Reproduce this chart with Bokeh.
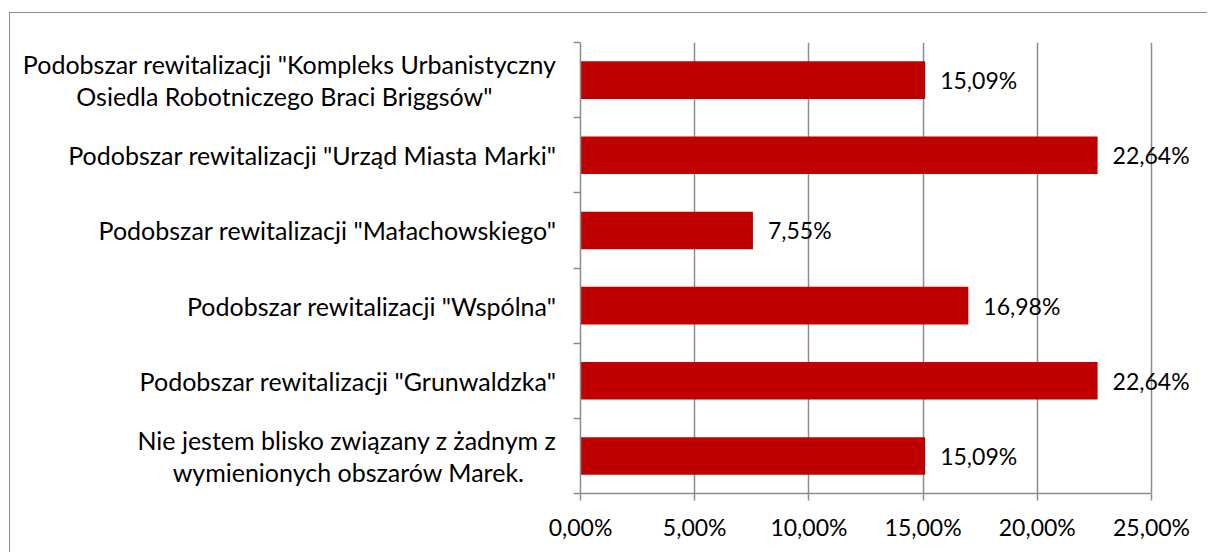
from bokeh.plotting import figure
from bokeh.models import Range1d, FixedTicker, Label
from bokeh.embed import file_html
from bokeh.resources import INLINE

# ---- data (top to bottom as in the chart) ----
categories = [
    'Podobszar rewitalizacji "Kompleks Urbanistyczny\nOsiedla Robotniczego Braci Briggsów"',
    'Podobszar rewitalizacji "Urząd Miasta Marki"',
    'Podobszar rewitalizacji "Małachowskiego"',
    'Podobszar rewitalizacji "Wspólna"',
    'Podobszar rewitalizacji "Grunwaldzka"',
    'Nie jestem blisko związany z żadnym z\nwymienionych obszarów Marek.',
]
values = [15.09, 22.64, 7.55, 16.98, 22.64, 15.09]
value_labels = ["15,09%", "22,64%", "7,55%", "16,98%", "22,64%", "15,09%"]
x_ticks = [0, 5, 10, 15, 20, 25]
x_tick_labels = ["0,00%", "5,00%", "10,00%", "15,00%", "20,00%", "25,00%"]

FONT = "Lato"
FS_CAT = "25px"
FS_NUM = "23px"
GRID = "#8c8c8c"
# non-breaking-space padding so second lines look centred under the first line
LINE_PAD = {0: 10, 5: 5}

# layout (canvas pixels)
W, H = 1198, 540
FRAME_LEFT, FRAME_TOP, FRAME_BOTTOM_BORDER = 570, 29, 60
AXIS_PX = 571          # pixel length of the 0..25 % axis
FRAME_W = W - FRAME_LEFT

n = len(categories)
ypos = [n - i - 0.5 for i in range(n)]
x_max = x_ticks[-1]
x_end = x_max * FRAME_W / AXIS_PX   # frame runs to the canvas edge so value labels are not clipped


def padded(i, text):
    pad = LINE_PAD.get(i, 0)
    if pad and "\n" in text:
        a, b = text.split("\n", 1)
        return a + "\n" + b + "\u00a0" * pad
    return text


p = figure(width=W, height=H, output_backend="svg", toolbar_location=None,
           x_range=Range1d(0, x_end), y_range=Range1d(0, n),
           min_border_left=FRAME_LEFT, min_border_right=0, min_border_top=FRAME_TOP,
           min_border_bottom=FRAME_BOTTOM_BORDER)
p.outline_line_color = None
p.background_fill_color = "white"
p.border_fill_color = "white"
p.styles = {"margin-left": "9px", "margin-top": "12px",
            "border-left": "1px solid #8c8c8c", "border-top": "1px solid #8c8c8c"}

p.hbar(y=ypos, right=values, left=0, height=0.5, fill_color="#C00000", line_color=None)

for v, y, lab in zip(values, ypos, value_labels):
    p.add_layout(Label(x=v, y=y, text=lab, x_offset=15, text_baseline="middle",
                       text_font=FONT, text_font_size=FS_NUM, text_color="black"))

# x axis
p.xaxis.ticker = FixedTicker(ticks=x_ticks)
p.xaxis.bounds = (0, x_max)
p.xaxis.major_label_overrides = {t: l for t, l in zip(x_ticks, x_tick_labels)}
p.xaxis.axis_line_color = GRID
p.xaxis.axis_line_width = 1.5
p.xaxis.major_tick_line_color = GRID
p.xaxis.major_tick_line_width = 1.5
p.xaxis.major_tick_out = 7
p.xaxis.major_tick_in = 0
p.xaxis.minor_tick_line_color = None
p.xaxis.major_label_text_font = FONT
p.xaxis.major_label_text_font_size = FS_NUM
p.xaxis.major_label_text_color = "black"
p.xaxis.major_label_standoff = 12

# y axis: labels at category centres, small ticks at category boundaries
p.yaxis.ticker = FixedTicker(ticks=ypos, minor_ticks=list(range(n + 1)))
p.yaxis.major_label_overrides = {y: padded(i, c) for i, (y, c) in enumerate(zip(ypos, categories))}
p.yaxis.axis_line_color = GRID
p.yaxis.axis_line_width = 1.5
p.yaxis.major_tick_line_color = None
p.yaxis.major_tick_out = 0
p.yaxis.major_tick_in = 0
p.yaxis.minor_tick_line_color = GRID
p.yaxis.minor_tick_line_width = 1.5
p.yaxis.minor_tick_out = 7
p.yaxis.minor_tick_in = 0
p.yaxis.major_label_text_font = FONT
p.yaxis.major_label_text_font_size = FS_CAT
p.yaxis.major_label_text_color = "black"
p.yaxis.major_label_standoff = 17
p.yaxis.major_label_text_line_height = 1.05

p.xgrid.ticker = FixedTicker(ticks=x_ticks)
p.xgrid.grid_line_color = GRID
p.xgrid.grid_line_width = 1.5
p.ygrid.grid_line_color = None

open("out.html", "w").write(file_html(p, INLINE))
